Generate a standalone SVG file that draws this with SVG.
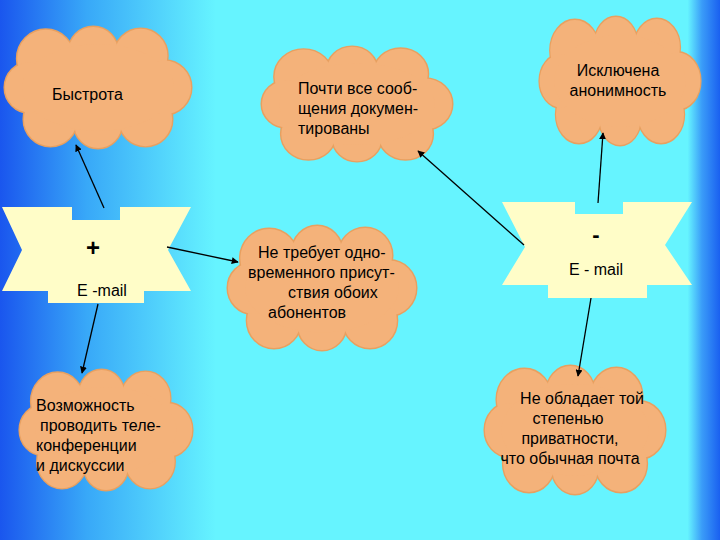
<svg xmlns="http://www.w3.org/2000/svg" xmlns:xlink="http://www.w3.org/1999/xlink" width="720" height="540" viewBox="0 0 720 540">
<defs>
<linearGradient id="bg" x1="0" y1="0" x2="1" y2="0">
<stop offset="0" stop-color="#1a56ee"/><stop offset="0.12" stop-color="#38a8f8"/><stop offset="0.3" stop-color="#66f4ff"/><stop offset="0.955" stop-color="#66f4ff"/><stop offset="0.975" stop-color="#3a9cf8"/><stop offset="1" stop-color="#1a60f0"/>
</linearGradient>
<symbol id="cloud" viewBox="0 0 200 130" preserveAspectRatio="none">
<g fill="#f4b27a" stroke="#e8a060" stroke-width="3">
<circle cx="45" cy="35" r="30"/><circle cx="95" cy="28" r="26"/><circle cx="145" cy="32" r="28"/><circle cx="170" cy="65" r="28"/><circle cx="150" cy="98" r="28"/><circle cx="100" cy="103" r="25"/><circle cx="50" cy="98" r="28"/><circle cx="28" cy="65" r="26"/>
</g>
<g fill="#f4b27a">
<circle cx="45" cy="35" r="30"/><circle cx="95" cy="28" r="26"/><circle cx="145" cy="32" r="28"/><circle cx="170" cy="65" r="28"/><circle cx="150" cy="98" r="28"/><circle cx="100" cy="103" r="25"/><circle cx="50" cy="98" r="28"/><circle cx="28" cy="65" r="26"/><ellipse cx="100" cy="65" rx="80" ry="45"/>
</g>
</symbol>
<marker id="ah" viewBox="0 0 10 10" refX="9" refY="5" markerWidth="7" markerHeight="7" orient="auto" markerUnits="userSpaceOnUse"><path d="M0,0L10,5L0,10z" fill="#000"/></marker>
</defs>
<style>
text{font-family:"Liberation Sans",Arial,sans-serif;font-size:16px;fill:#000}
.ban{fill:#fffdc8}
.c{stroke:#000;stroke-width:1.3;fill:none;marker-end:url(#ah)}
</style>
<rect width="720" height="540" fill="url(#bg)"/>
<g id="n1"><use xlink:href="#cloud" x="3" y="25" width="190" height="125"/><text x="52" y="100">Быстрота</text></g>
<g id="n2"><use xlink:href="#cloud" x="260" y="45" width="194" height="118"/><text x="298" y="94">Почти все сооб-</text><text x="298" y="114">щения докумен-</text><text x="298" y="134">тированы</text></g>
<g id="n3"><use xlink:href="#cloud" x="538" y="15" width="164" height="132"/><text x="618" y="76" text-anchor="middle">Исключена</text><text x="618" y="96" text-anchor="middle">анонимность</text></g>
<g id="n4"><use xlink:href="#cloud" x="226" y="224" width="192" height="128"/><text x="258" y="258">Не требует одно-</text><text x="248" y="278">временного присут-</text><text x="288" y="298">ствия обоих</text><text x="268" y="318">абонентов</text></g>
<g id="n5"><use xlink:href="#cloud" x="18" y="368" width="176" height="124"/><text x="36" y="411">Возможность</text><text x="40" y="431"> проводить теле-</text><text x="36" y="451">конференции</text><text x="36" y="471">и дискуссии</text></g>
<g id="n6"><use xlink:href="#cloud" x="483" y="364" width="184" height="132"/><text x="582" y="404" text-anchor="middle">Не обладает той</text><text x="568" y="424" text-anchor="middle">степенью</text><text x="570" y="444" text-anchor="middle">приватности,</text><text x="570" y="464" text-anchor="middle">что обычная почта</text></g>
<g id="b1"><polygon class="ban" points="2,207 72,207 72,220 120,220 120,207 191,207 168,250 191,291 144,291 144,303 48,303 48,291 2,291 22,250"/><text x="93" y="256" text-anchor="middle" style="font-size:24px;font-weight:bold">+</text><text x="102" y="296" text-anchor="middle">E -mail</text></g>
<g id="b2"><polygon class="ban" points="502,202 575,202 575,214 623,214 623,202 692,202 665,245 692,285 647,285 647,298 548,298 548,285 502,285 525,247"/><text x="596" y="242" text-anchor="middle" style="font-size:22px;font-weight:bold">-</text><text x="596" y="275" text-anchor="middle">E - mail</text></g>
<g id="connectors">
<line class="c" x1="104" y1="208" x2="76" y2="145"/>
<line class="c" x1="167" y1="247" x2="238" y2="262"/>
<line class="c" x1="98" y1="304" x2="82" y2="373"/>
<line class="c" x1="524" y1="245" x2="418" y2="151"/>
<line class="c" x1="598" y1="203" x2="603" y2="133"/>
<line class="c" x1="591" y1="298" x2="578" y2="376"/>
</g>
</svg>
